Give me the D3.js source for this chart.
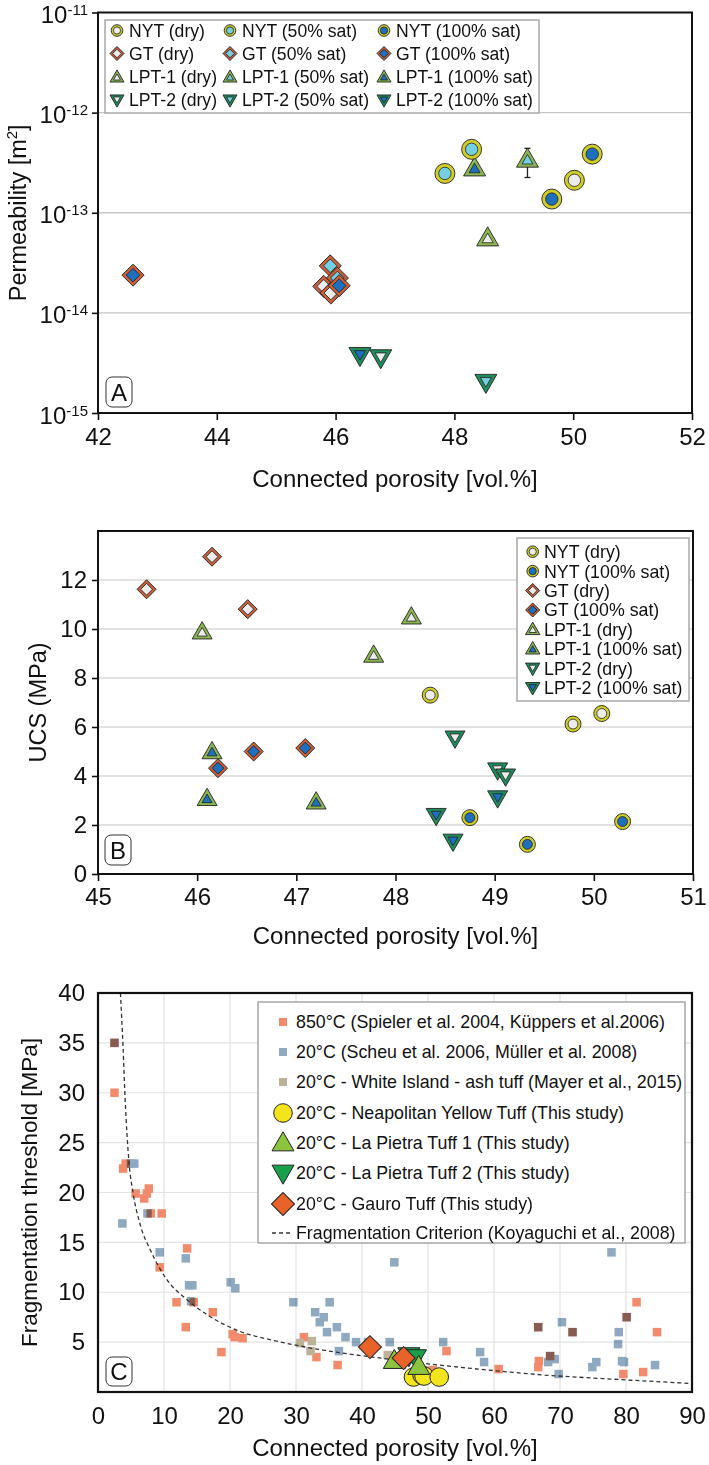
<!DOCTYPE html>
<html><head><meta charset="utf-8">
<script src="https://cdn.jsdelivr.net/npm/d3@7"></script>
<style>
html,body{margin:0;padding:0;background:#fff;}
svg{display:block;}
</style></head><body>
<svg id="c" width="709" height="1465"></svg>
<script>
// ================= DATA =================
// Panel A: [connected porosity (vol.%), permeability (m^2)]
const nytDryA  = [[50.02, 2.11e-13]];
const nyt50A   = [[48.29, 4.3e-13], [47.84, 2.47e-13]];
const nyt100A  = [[50.32, 3.85e-13], [49.64, 1.37e-13]];
const gtDryA   = [[45.80, 1.84e-14], [45.92, 1.58e-14]];
const gt50A    = [[45.91, 2.95e-14], [46.03, 2.23e-14]];
const gt100A   = [[42.59, 2.38e-14], [46.06, 1.87e-14]];
const lpt1DryA = [[48.56, 5.4e-14]];
const lpt150A  = [[49.23, 3.3e-13]];
const lpt150ErrA = [[49.23, 2.25e-13, 4.4e-13]];
const lpt1100A = [[48.34, 2.7e-13]];
const lpt2DryA = [[46.76, 3.7e-15]];
const lpt250A  = [[48.53, 2.1e-15]];
const lpt2100A = [[46.41, 3.9e-15]];
const xTicksA = [42, 44, 46, 48, 50, 52];
const yTicksA = [1e-15, 1e-14, 1e-13, 1e-12, 1e-11];

// Panel B: [connected porosity (vol.%), UCS (MPa)]
const nytDryB  = [[48.35, 7.3], [49.79, 6.12], [50.08, 6.55]];
const nyt100B  = [[48.75, 2.30], [49.33, 1.21], [50.29, 2.14]];
const gtDryB   = [[45.49, 11.62], [46.15, 12.95], [46.51, 10.81]];
const gt100B   = [[46.21, 4.32], [46.57, 5.00], [47.09, 5.14]];
const lpt1DryB = [[46.05, 9.83], [47.78, 8.88], [48.16, 10.44]];
const lpt1100B = [[46.15, 4.94], [46.10, 3.03], [47.20, 2.89]];
const lpt2DryB = [[48.60, 5.6], [49.03, 4.3], [49.11, 4.05]];
const lpt2100B = [[48.41, 2.44], [48.58, 1.39], [49.03, 3.16]];
const xTicksB = [45, 46, 47, 48, 49, 50, 51];
const yTicksB = [0, 2, 4, 6, 8, 10, 12];

// Panel C: [connected porosity (vol.%), fragmentation threshold (MPa)]
const hot850C = [[2.5,35.0],[2.5,30.0],[3.8,22.4],[4.2,22.9],[5.7,19.9],[7.0,19.4],[7.4,19.9],[7.7,20.4],
  [8.0,17.9],[9.65,17.9],[9.35,12.5],[13.5,14.4],[11.9,9.0],[14.5,9.0],[13.3,6.5],[17.4,8.0],[18.7,4.0],
  [20.4,5.8],[20.7,5.5],[21.9,5.4],[31.2,5.5],[33.1,3.5],[36.3,2.7],[52.8,4.1],[50.7,2.2],[60.7,2.3],
  [66.8,3.1],[66.7,2.5],[66.7,6.5],[68.5,3.6],[71.9,6.0],[80.1,7.5],[81.6,9.0],[84.7,6.0],[79.6,1.8],[82.6,2.0]];
const cold20C = [[2.5,35.0],[5.0,22.9],[5.5,22.9],[3.7,16.9],[7.5,17.9],[9.35,14.0],[13.3,13.4],[13.8,10.7],
  [14.3,10.7],[14.1,9.1],[20.1,11.0],[20.8,10.4],[29.6,9.0],[32.9,8.0],[34.2,7.5],[33.6,7.0],[35.1,9.0],
  [34.7,6.0],[36.2,6.5],[37.5,5.5],[36.5,4.1],[39.1,5.0],[40.9,5.0],[44.2,5.0],[44.9,13.0],[52.3,5.0],
  [57.9,4.0],[58.5,3.0],[66.7,6.5],[68.5,3.6],[71.9,6.0],[80.1,7.5],[77.8,14.0],[70.3,7.0],[78.9,6.0],
  [78.8,4.8],[79.4,3.1],[79.7,3.0],[68.2,3.0],[69.2,3.3],[69.8,1.8],[74.9,2.5],[75.5,3.0],[84.4,2.7]];
const whiteIslandC = [[30.6,4.9],[32.4,5.1],[32.2,4.1],[43.9,3.7]];
const nytC  = [[47.8,1.5],[49.1,1.7],[49.4,1.6],[51.7,1.5]];
const lpt1C = [[44.9,3.0],[48.6,2.4]];
const lpt2C = [[47.1,3.8],[48.1,3.6]];
const gtC   = [[41.2,4.5],[46.3,3.4]];
const criterionC = [[3.4,40],[3.8,34.5],[4.1,29.5],[4.7,23],[5.3,20],[6.3,17],[8.1,14],[10.4,11.3],[13.4,9.3],
  [16.9,7.6],[21.4,6.1],[26.4,5.2],[31.5,4.5],[44,3.3],[57.6,2.3],[67.7,1.7],[77.7,1.3],[90,0.85]];
const xTicksC = [0,10,20,30,40,50,60,70,80,90];
const yTicksC = [5,10,15,20,25,30,35,40];

// ================= STYLE =================
const FONT = "'Liberation Sans', Arial, Helvetica, sans-serif";
const RING = {NYT:"#d0cd2a", GT:"#c9603a", LPT1:"#8bb552", LPT2:"#1e8c5b"};
const FILL = {dry:"#ececec", s50:"#74cfe1", s100:"#1f6fbf"};
const SHAPE = {NYT:"circle", GT:"diamond", LPT1:"up", LPT2:"down"};

const svg = d3.select("#c").attr("font-family", FONT);

function symPath(shape, r) {
  if (shape === "circle") return d3.symbol(d3.symbolCircle, Math.PI * r * r)();
  if (shape === "diamond") return d3.symbol(d3.symbolSquare, 2 * r * r)();
  const s = 2 * r; return d3.symbol(d3.symbolTriangle, Math.sqrt(3) / 4 * s * s)();
}
function rotOf(shape) { return shape === "diamond" ? 45 : (shape === "down" ? 180 : 0); }
function ringMarker(g, shape, r, ring, fill, x, y) {
  const t = `translate(${x},${y}) rotate(${rotOf(shape)})`;
  const inner = (shape === "up" || shape === "down") ? 0.5 : 0.62;
  g.append("path").attr("d", symPath(shape, r)).attr("transform", t)
    .attr("fill", ring).attr("stroke", "#222").attr("stroke-width", 0.9);
  g.append("path").attr("d", symPath(shape, r * inner)).attr("transform", t)
    .attr("fill", fill).attr("stroke", "#222").attr("stroke-width", 0.8);
}
function sizeFor(shape, base) {
  return shape === "circle" ? base.c : shape === "diamond" ? base.d : base.t;
}
function text(g, x, y, s, size, anchor) {
  return g.append("text").attr("x", x).attr("y", y).attr("font-size", size)
    .attr("text-anchor", anchor || "start").attr("fill", "#111").text(s);
}
function panelLabel(g, x, y, w, h, s) {
  g.append("rect").attr("x", x).attr("y", y).attr("width", w).attr("height", h).attr("rx", 6)
    .attr("fill", "#fff").attr("stroke", "#333").attr("stroke-width", 1);
  text(g, x + w / 2, y + h / 2 + 8.5, s, 24, "middle");
}
function styleAxis(ax, size) {
  ax.select(".domain").remove();
  ax.attr("font-family", FONT).attr("font-size", size);
  ax.selectAll(".tick line").attr("stroke", "#111").attr("stroke-width", 1.6);
  ax.selectAll(".tick text").attr("fill", "#111");
}

// ================= PANEL A =================
{
  const L = 98, R = 692, T = 12.5, B = 413;
  const x = d3.scaleLinear().domain([42, 52]).range([L, R]);
  const y = d3.scaleLog().domain([1e-15, 1e-11]).range([B, T]);
  const g = svg.append("g");
  g.selectAll("line.grid").data(yTicksA.slice(1, -1)).join("line")
    .attr("x1", L).attr("x2", R).attr("y1", d => y(d)).attr("y2", d => y(d))
    .attr("stroke", "#c6c6c6").attr("stroke-width", 1.3);
  const ax = g.append("g").attr("transform", `translate(0,${B})`)
    .call(d3.axisBottom(x).tickValues(xTicksA).tickSize(7).tickPadding(8).tickFormat(d3.format("d")));
  styleAxis(ax, 24);
  const ay = g.append("g").attr("transform", `translate(${L},0)`)
    .call(d3.axisLeft(y).tickValues(yTicksA).tickSize(6).tickPadding(4).tickFormat(() => ""));
  styleAxis(ay, 24);
  ay.selectAll(".tick text").attr("dy", "0.42em").each(function (d) {
    const t = d3.select(this);
    t.append("tspan").text("10");
    t.append("tspan").attr("dy", -8).attr("font-size", 15).text(String(Math.round(Math.log10(d))));
  });
  g.append("rect").attr("x", L).attr("y", T).attr("width", R - L).attr("height", B - T)
    .attr("fill", "none").attr("stroke", "#111").attr("stroke-width", 2);

  // legend
  const legA = [
    ["NYT (dry)", "NYT", "dry"], ["NYT (50% sat)", "NYT", "s50"], ["NYT (100% sat)", "NYT", "s100"],
    ["GT (dry)", "GT", "dry"], ["GT (50% sat)", "GT", "s50"], ["GT (100% sat)", "GT", "s100"],
    ["LPT-1 (dry)", "LPT1", "dry"], ["LPT-1 (50% sat)", "LPT1", "s50"], ["LPT-1 (100% sat)", "LPT1", "s100"],
    ["LPT-2 (dry)", "LPT2", "dry"], ["LPT-2 (50% sat)", "LPT2", "s50"], ["LPT-2 (100% sat)", "LPT2", "s100"]];
  const lg = g.append("g");
  lg.append("rect").attr("x", 105).attr("y", 20).attr("width", 434).attr("height", 93)
    .attr("fill", "#fff").attr("stroke", "#a8a8a8").attr("stroke-width", 1.5);
  const colM = [117, 230, 384], rowY = [30.5, 53.5, 77, 100];
  legA.forEach((e, i) => {
    const c = i % 3, r = Math.floor(i / 3);
    const sh = SHAPE[e[1]];
    ringMarker(lg, sh, sizeFor(sh, {c: 5.8, d: 7, t: 7}), RING[e[1]], FILL[e[2]], colM[c], rowY[r] + (sh === "up" ? 1 : sh === "down" ? -1 : 0));
    text(lg, colM[c] + 12, rowY[r] + 6.3, e[0], 17.6);
  });

  // points
  const pts = g.append("g");
  const drawSet = (data, rock, sat) => data.forEach(p => {
    const sh = SHAPE[rock];
    ringMarker(pts, sh, sizeFor(sh, {c: 10, d: 11, t: 11}), RING[rock], FILL[sat], x(p[0]), y(p[1]));
  });
  drawSet(gt50A, "GT", "s50"); drawSet(gtDryA, "GT", "dry"); drawSet(gt100A, "GT", "s100");
  drawSet(lpt2100A, "LPT2", "s100"); drawSet(lpt2DryA, "LPT2", "dry"); drawSet(lpt250A, "LPT2", "s50");
  drawSet(lpt1DryA, "LPT1", "dry");
  lpt150ErrA.forEach(e => {
    pts.append("line").attr("x1", x(e[0])).attr("x2", x(e[0])).attr("y1", y(e[1])).attr("y2", y(e[2]))
      .attr("stroke", "#222").attr("stroke-width", 1.3);
    [e[1], e[2]].forEach(v => pts.append("line").attr("x1", x(e[0]) - 3).attr("x2", x(e[0]) + 3)
      .attr("y1", y(v)).attr("y2", y(v)).attr("stroke", "#222").attr("stroke-width", 1.3));
  });
  drawSet(lpt150A, "LPT1", "s50"); drawSet(lpt1100A, "LPT1", "s100");
  drawSet(nytDryA, "NYT", "dry"); drawSet(nyt50A, "NYT", "s50"); drawSet(nyt100A, "NYT", "s100");

  panelLabel(g, 106, 377, 26, 30, "A");
  const yt = text(g, 0, 0, "", 23.5, "middle").attr("transform", `translate(26,${(T + B) / 2}) rotate(-90)`);
  yt.append("tspan").text("Permeability [m");
  yt.append("tspan").attr("dy", -9).attr("font-size", 15).text("2");
  yt.append("tspan").attr("dy", 9).text("]");
  text(g, (L + R) / 2, 487, "Connected porosity [vol.%]", 24, "middle");
}

// ================= PANEL B =================
{
  const L = 98, R = 693, T = 531, B = 874;
  const x = d3.scaleLinear().domain([45, 51]).range([L, R]);
  const y = d3.scaleLinear().domain([0, 14]).range([B, T]);
  const g = svg.append("g");
  g.selectAll("line.grid").data(yTicksB.slice(1)).join("line")
    .attr("x1", L).attr("x2", R).attr("y1", d => y(d)).attr("y2", d => y(d))
    .attr("stroke", "#d9d9d9").attr("stroke-width", 1.3);
  const ax = g.append("g").attr("transform", `translate(0,${B})`)
    .call(d3.axisBottom(x).tickValues(xTicksB).tickSize(7).tickPadding(7).tickFormat(d3.format("d")));
  styleAxis(ax, 24);
  const ay = g.append("g").attr("transform", `translate(${L},0)`)
    .call(d3.axisLeft(y).tickValues(yTicksB).tickSize(6).tickPadding(5).tickFormat(d3.format("d")));
  styleAxis(ay, 24);
  g.append("rect").attr("x", L).attr("y", T).attr("width", R - L).attr("height", B - T)
    .attr("fill", "none").attr("stroke", "#111").attr("stroke-width", 2);

  const pts = g.append("g");
  const drawSet = (data, rock, sat) => data.forEach(p => {
    const sh = SHAPE[rock];
    ringMarker(pts, sh, sizeFor(sh, {c: 8, d: 9.5, t: 10}), RING[rock], FILL[sat], x(p[0]), y(p[1]));
  });
  drawSet(gtDryB, "GT", "dry"); drawSet(gt100B, "GT", "s100");
  drawSet(lpt1DryB, "LPT1", "dry"); drawSet(lpt1100B, "LPT1", "s100");
  drawSet(lpt2DryB, "LPT2", "dry"); drawSet(lpt2100B, "LPT2", "s100");
  drawSet(nytDryB, "NYT", "dry"); drawSet(nyt100B, "NYT", "s100");

  const legB = [["NYT (dry)", "NYT", "dry"], ["NYT (100% sat)", "NYT", "s100"], ["GT (dry)", "GT", "dry"],
    ["GT (100% sat)", "GT", "s100"], ["LPT-1 (dry)", "LPT1", "dry"], ["LPT-1 (100% sat)", "LPT1", "s100"],
    ["LPT-2 (dry)", "LPT2", "dry"], ["LPT-2 (100% sat)", "LPT2", "s100"]];
  const lg = g.append("g");
  lg.append("rect").attr("x", 517).attr("y", 538).attr("width", 172).attr("height", 163)
    .attr("fill", "#fff").attr("stroke", "#a8a8a8").attr("stroke-width", 1.5);
  legB.forEach((e, i) => {
    const yy = 551.7 + i * 19.43, sh = SHAPE[e[1]];
    ringMarker(lg, sh, sizeFor(sh, {c: 5.8, d: 7, t: 7.2}), RING[e[1]], FILL[e[2]], 532.7, yy + (sh === "up" ? 1 : sh === "down" ? -1 : 0));
    text(lg, 544, yy + 6.4, e[0], 17.8);
  });

  panelLabel(g, 105, 835, 26, 30, "B");
  text(g, 0, 0, "UCS (MPa)", 23.5, "middle").attr("transform", `translate(46,${(T + B) / 2}) rotate(-90)`);
  text(g, (L + R) / 2, 944, "Connected porosity [vol.%]", 24, "middle");
}

// ================= PANEL C =================
{
  const L = 98, R = 692, T = 993, B = 1392;
  const x = d3.scaleLinear().domain([0, 90]).range([L, R]);
  const y = d3.scaleLinear().domain([0, 40]).range([B, T]);
  const g = svg.append("g");
  g.selectAll("line.gx").data(xTicksC.slice(1, -1)).join("line")
    .attr("x1", d => x(d)).attr("x2", d => x(d)).attr("y1", T).attr("y2", B)
    .attr("stroke", "#e3e3e3").attr("stroke-width", 1.2);
  g.selectAll("line.gy").data(yTicksC.slice(0, -1)).join("line")
    .attr("x1", L).attr("x2", R).attr("y1", d => y(d)).attr("y2", d => y(d))
    .attr("stroke", "#e3e3e3").attr("stroke-width", 1.2);
  const ax = g.append("g").attr("transform", `translate(0,${B})`)
    .call(d3.axisBottom(x).tickValues(xTicksC).tickSize(0).tickPadding(15).tickFormat(d3.format("d")));
  styleAxis(ax, 24);
  const ay = g.append("g").attr("transform", `translate(${L},0)`)
    .call(d3.axisLeft(y).tickValues(yTicksC).tickSize(0).tickPadding(13).tickFormat(d3.format("d")));
  styleAxis(ay, 24);

  const COL = {hot: "#f28a6c", cold: "#8ea9c0", wi: "#bdb298"};
  const sq = 8.5;
  const squares = (data, color, blend) => {
    const sg = g.append("g");
    if (blend) sg.style("mix-blend-mode", "multiply");
    sg.selectAll("rect").data(data).join("rect")
      .attr("x", d => x(d[0]) - sq / 2).attr("y", d => y(d[1]) - sq / 2)
      .attr("width", sq).attr("height", sq).attr("fill", color);
  };
  squares(hot850C, COL.hot, false);
  squares(cold20C, COL.cold, true);
  squares(whiteIslandC, COL.wi, false);

  g.append("path").datum(criterionC)
    .attr("d", d3.line().x(d => x(d[0])).y(d => y(d[1])).curve(d3.curveMonotoneX))
    .attr("fill", "none").attr("stroke", "#333").attr("stroke-width", 1.3).attr("stroke-dasharray", "4,3");

  const FC = {nyt: "#f4e41c", lpt1: "#8cc43e", lpt2: "#18a04a", gt: "#e9622a"};
  const sym = (data, shape, r, color) => data.forEach(p => {
    g.append("path").attr("d", symPath(shape, r))
      .attr("transform", `translate(${x(p[0])},${y(p[1])}) rotate(${rotOf(shape)})`)
      .attr("fill", color).attr("stroke", "#222").attr("stroke-width", 1);
  });
  sym(nytC, "circle", 9.3, FC.nyt);
  sym(lpt2C, "down", 11, FC.lpt2);
  sym(lpt1C, "up", 11, FC.lpt1);
  sym(gtC, "diamond", 11.5, FC.gt);

  g.append("rect").attr("x", L).attr("y", T).attr("width", R - L).attr("height", B - T)
    .attr("fill", "none").attr("stroke", "#111").attr("stroke-width", 2.2);

  // legend
  const lg = g.append("g");
  lg.append("rect").attr("x", 258).attr("y", 1002).attr("width", 427).attr("height", 241)
    .attr("fill", "#fff").attr("stroke", "#9a9a9a").attr("stroke-width", 1.3);
  const legC = [
    ["850°C (Spieler et al. 2004, Küppers et al.2006)", "sq", COL.hot],
    ["20°C (Scheu et al. 2006, Müller et al. 2008)", "sq", COL.cold],
    ["20°C - White Island - ash tuff (Mayer et al., 2015)", "sq", COL.wi],
    ["20°C - Neapolitan Yellow Tuff (This study)", "circle", FC.nyt],
    ["20°C - La Pietra Tuff 1 (This study)", "up", FC.lpt1],
    ["20°C - La Pietra Tuff 2 (This study)", "down", FC.lpt2],
    ["20°C - Gauro Tuff (This study)", "diamond", FC.gt],
    ["Fragmentation Criterion (Koyaguchi et al., 2008)", "line", "#333"]];
  const rowsC = [1022, 1052, 1082, 1113, 1143, 1173, 1204, 1233];
  legC.forEach((e, i) => {
    const yy = rowsC[i], mx = 283;
    if (e[1] === "sq") lg.append("rect").attr("x", mx - 4).attr("y", yy - 4).attr("width", 8).attr("height", 8).attr("fill", e[2]);
    else if (e[1] === "line") lg.append("line").attr("x1", 272).attr("x2", 292).attr("y1", yy).attr("y2", yy)
      .attr("stroke", e[2]).attr("stroke-width", 1.3).attr("stroke-dasharray", "4,3");
    else {
      const r = e[1] === "circle" ? 9.3 : e[1] === "diamond" ? 11.5 : 11;
      lg.append("path").attr("d", symPath(e[1], r))
        .attr("transform", `translate(${mx},${yy + (e[1] === "up" ? 1.5 : e[1] === "down" ? -1.5 : 0)}) rotate(${rotOf(e[1])})`)
        .attr("fill", e[2]).attr("stroke", "#222").attr("stroke-width", 1);
    }
    text(lg, 296, yy + 6.4, e[0], 17.8);
  });

  panelLabel(g, 106, 1357, 26, 29, "C");
  text(g, 0, 0, "Fragmentation threshold [MPa]", 22.5, "middle").attr("transform", `translate(37,${(T + B) / 2}) rotate(-90)`);
  text(g, (L + R) / 2, 1456, "Connected porosity [vol.%]", 24, "middle");
}
</script></body></html>
